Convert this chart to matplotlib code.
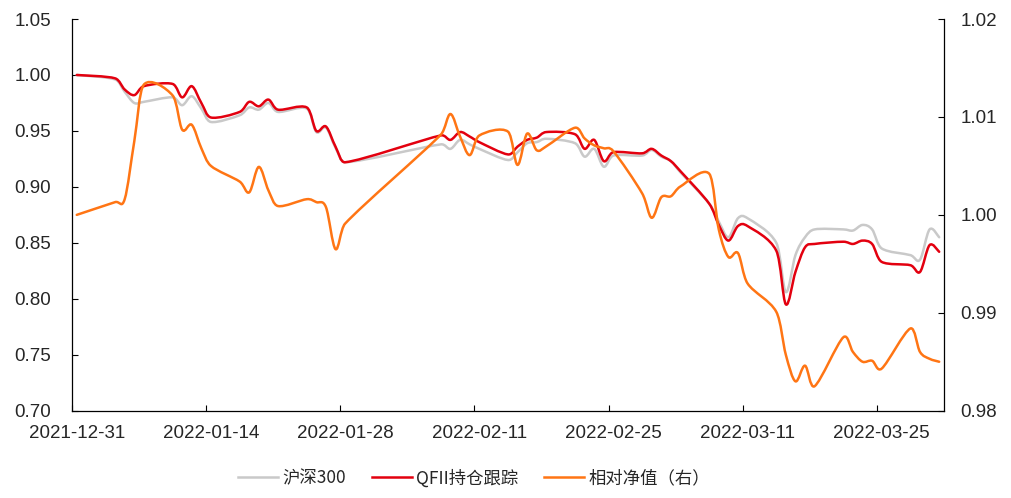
import numpy as np
import pandas as pd
import matplotlib
matplotlib.use("Agg")
import matplotlib.pyplot as plt
import matplotlib.dates as mdates
from matplotlib.path import Path
from matplotlib.patches import PathPatch
from matplotlib.lines import Line2D
from matplotlib.ticker import FixedLocator, FormatStrFormatter

# ---------------- data ----------------
dates = ['2021-12-31',
         '2022-01-04', '2022-01-05', '2022-01-06', '2022-01-07',
         '2022-01-10', '2022-01-11', '2022-01-12', '2022-01-13', '2022-01-14',
         '2022-01-17', '2022-01-18', '2022-01-19', '2022-01-20', '2022-01-21',
         '2022-01-24', '2022-01-25', '2022-01-26', '2022-01-27', '2022-01-28',
         '2022-02-07', '2022-02-08', '2022-02-09', '2022-02-10', '2022-02-11',
         '2022-02-14', '2022-02-15', '2022-02-16', '2022-02-17', '2022-02-18',
         '2022-02-21', '2022-02-22', '2022-02-23', '2022-02-24', '2022-02-25',
         '2022-02-28', '2022-03-01', '2022-03-02', '2022-03-03', '2022-03-04',
         '2022-03-07', '2022-03-08', '2022-03-09', '2022-03-10', '2022-03-11',
         '2022-03-14', '2022-03-15', '2022-03-16', '2022-03-17', '2022-03-18',
         '2022-03-21', '2022-03-22', '2022-03-23', '2022-03-24', '2022-03-25',
         '2022-03-28', '2022-03-29', '2022-03-30', '2022-03-31']

hs300 = [1.000,
         0.996, 0.985, 0.975, 0.976,
         0.980, 0.973, 0.981, 0.970, 0.958,
         0.964, 0.971, 0.969, 0.975, 0.967,
         0.970, 0.949, 0.953, 0.935, 0.922,
         0.938, 0.934, 0.942, 0.938, 0.934,
         0.924, 0.931, 0.939, 0.940, 0.943,
         0.939, 0.927, 0.934, 0.918, 0.928,
         0.928, 0.933, 0.927, 0.923, 0.913,
         0.885, 0.869, 0.855, 0.872, 0.872,
         0.850, 0.806, 0.839, 0.855, 0.862,
         0.862, 0.861, 0.866, 0.862, 0.845,
         0.839, 0.835, 0.862, 0.855]

qfii = [1.000,
        0.997, 0.987, 0.982, 0.990,
        0.992, 0.980, 0.990, 0.975, 0.962,
        0.967, 0.976, 0.972, 0.978, 0.969,
        0.971, 0.950, 0.954, 0.936, 0.922,
        0.946, 0.942, 0.949, 0.945, 0.940,
        0.929, 0.936, 0.942, 0.944, 0.949,
        0.947, 0.934, 0.942, 0.923, 0.931,
        0.930, 0.934, 0.928, 0.923, 0.914,
        0.885, 0.866, 0.852, 0.865, 0.865,
        0.843, 0.795, 0.824, 0.846, 0.849,
        0.851, 0.849, 0.852, 0.849, 0.833,
        0.830, 0.824, 0.848, 0.842]

relative = [1.0000,
            1.0013, 1.0016, 1.0075, 1.0133,
            1.0122, 1.0087, 1.0092, 1.0068, 1.0050,
            1.0034, 1.0023, 1.0049, 1.0025, 1.0009,
            1.0016, 1.0013, 1.0008, 0.9965, 0.9991,
            1.0082, 1.0103, 1.0080, 1.0061, 1.0081,
            1.0085, 1.0051, 1.0083, 1.0066, 1.0070,
            1.0089, 1.0078, 1.0071, 1.0068, 1.0065,
            1.0022, 0.9997, 1.0018, 1.0019, 1.0029,
            1.0042, 0.9985, 0.9957, 0.9961, 0.9930,
            0.9901, 0.9857, 0.9830, 0.9846, 0.9825,
            0.9875, 0.9860, 0.9850, 0.9851, 0.9843,
            0.9884, 0.9860, 0.9853, 0.9850]

series_names = ['沪深300', 'QFII持仓跟踪', '相对净值（右）']
tick_dates = ['2021-12-31', '2022-01-14', '2022-01-28', '2022-02-11',
              '2022-02-25', '2022-03-11', '2022-03-25']
left_ticks = [0.70, 0.75, 0.80, 0.85, 0.90, 0.95, 1.00, 1.05]
right_ticks = [0.98, 0.99, 1.00, 1.01, 1.02]

# ---------------- style ----------------
C_GREY = '#C9C9C9'
C_RED = '#E3000F'
C_ORANGE = '#FF7514'
TXT = '#262626'
LW = 1.8

plt.rcParams['font.family'] = ['Liberation Sans', 'DejaVu Sans']


def smooth_path(x, y):
    """Smoothed Bezier path through the data points (Catmull-Rom tangents,
    clamped so that a control point never overshoots its segment in x)."""
    x = np.asarray(x, float)
    y = np.asarray(y, float)
    n = len(x)
    tx = np.empty(n)
    ty = np.empty(n)
    for i in range(n):
        a = max(i - 1, 0)
        b = min(i + 1, n - 1)
        tx[i] = (x[b] - x[a]) / 6.0
        ty[i] = (y[b] - y[a]) / 6.0
    verts = [(x[0], y[0])]
    codes = [Path.MOVETO]
    for i in range(n - 1):
        h = x[i + 1] - x[i]
        s1 = min(1.0, (h / 2.0) / tx[i]) if tx[i] > 0 else 1.0
        s2 = min(1.0, (h / 2.0) / tx[i + 1]) if tx[i + 1] > 0 else 1.0
        c1 = (x[i] + tx[i] * s1, y[i] + ty[i] * s1)
        c2 = (x[i + 1] - tx[i + 1] * s2, y[i + 1] - ty[i + 1] * s2)
        verts += [c1, c2, (x[i + 1], y[i + 1])]
        codes += [Path.CURVE4] * 3
    return Path(verts, codes)


xd = mdates.date2num(pd.to_datetime(dates))
xt = mdates.date2num(pd.to_datetime(tick_dates))

fig = plt.figure(figsize=(10.11, 4.98), dpi=100)
ax = fig.add_axes([0.0712, 0.1753, 0.8625, 0.7865])
ax2 = ax.twinx()

ax.add_patch(PathPatch(smooth_path(xd, hs300), fill=False, edgecolor=C_GREY,
                       lw=LW, capstyle='round', joinstyle='round', zorder=2))
ax.add_patch(PathPatch(smooth_path(xd, qfii), fill=False, edgecolor=C_RED,
                       lw=LW, capstyle='round', joinstyle='round', zorder=3))
ax2.add_patch(PathPatch(smooth_path(xd, relative), fill=False, edgecolor=C_ORANGE,
                        lw=LW, capstyle='round', joinstyle='round', zorder=3))

ax.set_xlim(xd[0] - 0.5, xd[-1] + 0.5)
ax.set_ylim(0.70, 1.05)
ax2.set_ylim(0.98, 1.02)

# x axis: labels at dates, tick marks at bin edges
ax.xaxis.set_major_locator(FixedLocator(xt))
ax.xaxis.set_major_formatter(mdates.DateFormatter('%Y-%m-%d'))
ax.xaxis.set_minor_locator(FixedLocator(xt - 0.5))
ax.tick_params(axis='x', which='major', length=0, pad=10, labelsize=13.5,
               labelcolor=TXT)
ax.tick_params(axis='x', which='minor', length=4.3, direction='in', width=0.8,
               color='black')

ax.yaxis.set_major_locator(FixedLocator(left_ticks))
ax.yaxis.set_major_formatter(FormatStrFormatter('%.2f'))
ax.tick_params(axis='y', which='major', length=4.3, direction='in', width=0.8,
               pad=15, labelsize=13.5, labelcolor=TXT)

ax2.yaxis.set_major_locator(FixedLocator(right_ticks))
ax2.yaxis.set_major_formatter(FormatStrFormatter('%.2f'))
ax2.tick_params(axis='y', which='major', length=4.3, direction='in', width=0.8,
                pad=12, labelsize=13.5, labelcolor=TXT)

for a in (ax, ax2):
    a.spines['top'].set_visible(False)
ax.spines['right'].set_visible(False)
ax2.spines['left'].set_visible(False)
ax2.spines['bottom'].set_visible(False)
for s in ('left', 'bottom'):
    ax.spines[s].set_linewidth(0.9)
    ax.spines[s].set_color('black')
ax2.spines['right'].set_linewidth(0.9)
ax2.spines['right'].set_color('black')

handles = [Line2D([0], [0], color=c, lw=LW) for c in (C_GREY, C_RED, C_ORANGE)]
leg = fig.legend(handles, series_names, loc='center', bbox_to_anchor=(0.469, 0.04),
                 ncol=3, frameon=False, handlelength=2.3, handletextpad=0.25,
                 columnspacing=1.5,
                 prop={'family': ['Noto Sans CJK SC', 'DejaVu Sans'], 'size': 12.5})
for t in leg.get_texts():
    t.set_color(TXT)

fig.savefig('out.png', dpi=100)
